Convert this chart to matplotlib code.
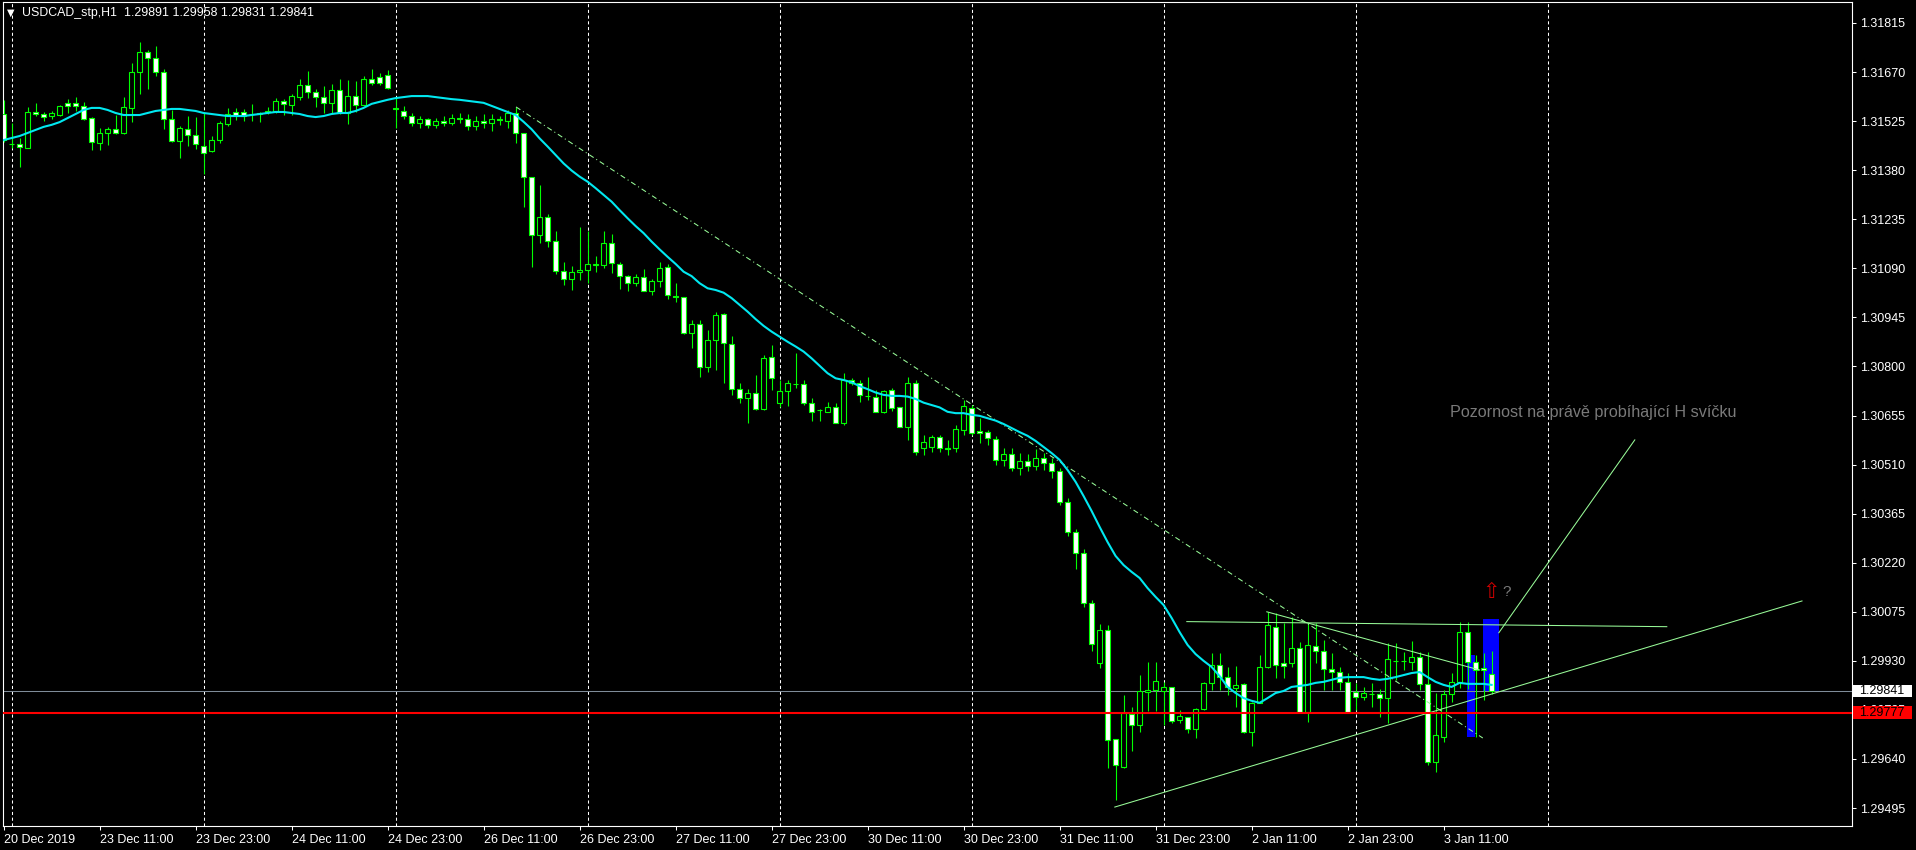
import matplotlib
matplotlib.use("Agg")
import matplotlib.pyplot as plt
import matplotlib.transforms as mtransforms
from matplotlib.patches import Rectangle

plt.rcParams['font.family'] = ['Liberation Sans', 'DejaVu Sans']

# USDCAD H1 bars, first bar 20 Dec 2019 23:00
opens = [
    1.31546, 1.31457, 1.31457, 1.31446, 1.31552, 1.31546, 1.31540, 1.31543, 1.31579, 1.31579,
    1.31570, 1.31534, 1.31460, 1.31490, 1.31502, 1.31490, 1.31564, 1.31670, 1.31729, 1.31712,
    1.31670, 1.31531, 1.31466, 1.31502, 1.31484, 1.31452, 1.31437, 1.31469, 1.31517, 1.31552,
    1.31552, 1.31546, 1.31546, 1.31552, 1.31555, 1.31585, 1.31573, 1.31596, 1.31632, 1.31611,
    1.31596, 1.31579, 1.31617, 1.31549, 1.31599, 1.31573, 1.31650, 1.31655, 1.31661, 1.31564,
    1.31555, 1.31540, 1.31520, 1.31530, 1.31515, 1.31525, 1.31520, 1.31535, 1.31530, 1.31510,
    1.31525, 1.31520, 1.31530, 1.31525, 1.31550, 1.31489, 1.31359, 1.31188, 1.31241, 1.31170,
    1.31081, 1.31059, 1.31078, 1.31084, 1.31101, 1.31099, 1.31165, 1.31103, 1.31067, 1.31046,
    1.31064, 1.31024, 1.31052, 1.31095, 1.31009, 1.31004, 1.30898, 1.30925, 1.30799, 1.30878,
    1.30954, 1.30866, 1.30733, 1.30708, 1.30721, 1.30674, 1.30827, 1.30691, 1.30728, 1.30747,
    1.30747, 1.30693, 1.30671, 1.30666, 1.30679, 1.30632, 1.30760, 1.30752, 1.30714, 1.30711,
    1.30666, 1.30729, 1.30679, 1.30622, 1.30752, 1.30558, 1.30563, 1.30591, 1.30559, 1.30558,
    1.30612, 1.30676, 1.30609, 1.30607, 1.30585, 1.30524, 1.30540, 1.30500, 1.30520, 1.30505,
    1.30530, 1.30515, 1.30490, 1.30400, 1.30310, 1.30250, 1.30100, 1.29925, 1.30021, 1.29698,
    1.29617, 1.29772, 1.29739, 1.29838, 1.29844, 1.29841, 1.29852, 1.29755, 1.29763, 1.29729,
    1.29787, 1.29864, 1.29918, 1.29883, 1.29849, 1.29862, 1.29721, 1.29805, 1.29911, 1.30031,
    1.29923, 1.29923, 1.29967, 1.29780, 1.29975, 1.29959, 1.29905, 1.29898, 1.29869, 1.29839,
    1.29824, 1.29832, 1.29831, 1.29820, 1.29931, 1.29930, 1.29928, 1.29942, 1.29861, 1.29632,
    1.29706, 1.29831, 1.29867, 1.30016, 1.29926, 1.29908, 1.29891,
]
highs = [
    1.31587, 1.31520, 1.31475, 1.31567, 1.31579, 1.31552, 1.31555, 1.31573, 1.31590, 1.31596,
    1.31582, 1.31537, 1.31505, 1.31508, 1.31543, 1.31596, 1.31697, 1.31759, 1.31735, 1.31747,
    1.31679, 1.31558, 1.31511, 1.31540, 1.31537, 1.31549, 1.31481, 1.31525, 1.31564, 1.31564,
    1.31561, 1.31576, 1.31552, 1.31567, 1.31593, 1.31590, 1.31605, 1.31650, 1.31673, 1.31620,
    1.31629, 1.31635, 1.31650, 1.31647, 1.31644, 1.31658, 1.31679, 1.31667, 1.31676, 1.31593,
    1.31570, 1.31550, 1.31540, 1.31535, 1.31535, 1.31540, 1.31545, 1.31550, 1.31545, 1.31540,
    1.31545, 1.31545, 1.31540, 1.31558, 1.31567, 1.31489, 1.31360, 1.31336, 1.31251, 1.31200,
    1.31109, 1.31097, 1.31213, 1.31200, 1.31127, 1.31200, 1.31191, 1.31109, 1.31070, 1.31073,
    1.31088, 1.31059, 1.31109, 1.31103, 1.31047, 1.31004, 1.30937, 1.30937, 1.30908, 1.30961,
    1.30958, 1.30890, 1.30751, 1.30733, 1.30775, 1.30834, 1.30864, 1.30760, 1.30760, 1.30840,
    1.30760, 1.30707, 1.30675, 1.30695, 1.30692, 1.30781, 1.30766, 1.30760, 1.30769, 1.30731,
    1.30731, 1.30736, 1.30680, 1.30769, 1.30760, 1.30598, 1.30598, 1.30598, 1.30583, 1.30627,
    1.30701, 1.30686, 1.30648, 1.30612, 1.30595, 1.30560, 1.30560, 1.30545, 1.30540, 1.30555,
    1.30545, 1.30530, 1.30500, 1.30410, 1.30320, 1.30260, 1.30110, 1.30040, 1.30036, 1.29699,
    1.29829, 1.29795, 1.29888, 1.29928, 1.29928, 1.29869, 1.29852, 1.29785, 1.29765, 1.29790,
    1.29869, 1.29952, 1.29952, 1.29911, 1.29915, 1.29864, 1.29809, 1.29947, 1.30075, 1.30071,
    1.30041, 1.30061, 1.29987, 1.30041, 1.30041, 1.29992, 1.29952, 1.29913, 1.29893, 1.29864,
    1.29854, 1.29864, 1.29846, 1.29982, 1.29982, 1.29957, 1.29989, 1.29957, 1.29957, 1.29834,
    1.29844, 1.29893, 1.30046, 1.30046, 1.29947, 1.29952, 1.29958,
]
lows = [
    1.31463, 1.31446, 1.31390, 1.31446, 1.31540, 1.31525, 1.31531, 1.31540, 1.31549, 1.31555,
    1.31528, 1.31440, 1.31440, 1.31455, 1.31487, 1.31487, 1.31523, 1.31605, 1.31620, 1.31658,
    1.31502, 1.31463, 1.31416, 1.31452, 1.31443, 1.31369, 1.31434, 1.31460, 1.31511, 1.31528,
    1.31525, 1.31525, 1.31523, 1.31546, 1.31549, 1.31543, 1.31543, 1.31588, 1.31593, 1.31567,
    1.31549, 1.31549, 1.31546, 1.31517, 1.31552, 1.31570, 1.31632, 1.31632, 1.31620, 1.31505,
    1.31530, 1.31510, 1.31505, 1.31505, 1.31505, 1.31510, 1.31515, 1.31520, 1.31500, 1.31500,
    1.31505, 1.31495, 1.31515, 1.31505, 1.31460, 1.31272, 1.31093, 1.31164, 1.31154, 1.31073,
    1.31041, 1.31026, 1.31056, 1.31047, 1.31079, 1.31091, 1.31076, 1.31029, 1.31023, 1.31038,
    1.31023, 1.31011, 1.31035, 1.30999, 1.30991, 1.30896, 1.30855, 1.30769, 1.30784, 1.30790,
    1.30751, 1.30716, 1.30692, 1.30633, 1.30671, 1.30671, 1.30731, 1.30680, 1.30683, 1.30736,
    1.30686, 1.30639, 1.30639, 1.30666, 1.30633, 1.30627, 1.30745, 1.30695, 1.30701, 1.30666,
    1.30663, 1.30668, 1.30621, 1.30583, 1.30538, 1.30538, 1.30547, 1.30547, 1.30538, 1.30547,
    1.30598, 1.30598, 1.30574, 1.30568, 1.30509, 1.30505, 1.30490, 1.30480, 1.30490, 1.30495,
    1.30495, 1.30470, 1.30390, 1.30300, 1.30200, 1.30090, 1.29960, 1.29910, 1.29614, 1.29519,
    1.29614, 1.29665, 1.29721, 1.29783, 1.29783, 1.29741, 1.29746, 1.29746, 1.29718, 1.29701,
    1.29785, 1.29844, 1.29844, 1.29829, 1.29795, 1.29718, 1.29679, 1.29805, 1.29908, 1.29879,
    1.29879, 1.29913, 1.29780, 1.29750, 1.29923, 1.29844, 1.29844, 1.29844, 1.29775, 1.29785,
    1.29815, 1.29795, 1.29765, 1.29746, 1.29874, 1.29903, 1.29903, 1.29844, 1.29622, 1.29603,
    1.29691, 1.29809, 1.29849, 1.29847, 1.29706, 1.29815, 1.29831,
]
closes = [
    1.31469, 1.31457, 1.31449, 1.31552, 1.31546, 1.31537, 1.31549, 1.31570, 1.31570, 1.31570,
    1.31531, 1.31463, 1.31490, 1.31502, 1.31490, 1.31567, 1.31670, 1.31729, 1.31712, 1.31670,
    1.31531, 1.31466, 1.31505, 1.31484, 1.31457, 1.31431, 1.31469, 1.31520, 1.31546, 1.31543,
    1.31540, 1.31546, 1.31549, 1.31555, 1.31585, 1.31576, 1.31599, 1.31632, 1.31611, 1.31596,
    1.31579, 1.31617, 1.31549, 1.31599, 1.31573, 1.31650, 1.31638, 1.31638, 1.31623, 1.31561,
    1.31540, 1.31520, 1.31530, 1.31515, 1.31525, 1.31520, 1.31535, 1.31530, 1.31510, 1.31525,
    1.31520, 1.31530, 1.31527, 1.31549, 1.31489, 1.31359, 1.31188, 1.31241, 1.31170, 1.31081,
    1.31059, 1.31078, 1.31084, 1.31103, 1.31103, 1.31164, 1.31106, 1.31067, 1.31046, 1.31064,
    1.31024, 1.31052, 1.31090, 1.31011, 1.31004, 1.30898, 1.30925, 1.30798, 1.30878, 1.30951,
    1.30869, 1.30733, 1.30708, 1.30721, 1.30674, 1.30824, 1.30765, 1.30728, 1.30750, 1.30748,
    1.30691, 1.30666, 1.30670, 1.30679, 1.30634, 1.30760, 1.30750, 1.30717, 1.30713, 1.30666,
    1.30726, 1.30676, 1.30622, 1.30750, 1.30547, 1.30578, 1.30591, 1.30558, 1.30555, 1.30614,
    1.30683, 1.30603, 1.30603, 1.30588, 1.30524, 1.30540, 1.30500, 1.30520, 1.30505, 1.30530,
    1.30515, 1.30490, 1.30400, 1.30310, 1.30250, 1.30100, 1.29980, 1.30021, 1.29696, 1.29622,
    1.29775, 1.29741, 1.29841, 1.29844, 1.29871, 1.29852, 1.29753, 1.29767, 1.29729, 1.29787,
    1.29864, 1.29918, 1.29883, 1.29854, 1.29859, 1.29721, 1.29805, 1.29911, 1.30036, 1.29918,
    1.29916, 1.29967, 1.29780, 1.29977, 1.29959, 1.29905, 1.29898, 1.29869, 1.29780, 1.29824,
    1.29834, 1.29832, 1.29820, 1.29935, 1.29931, 1.29930, 1.29941, 1.29861, 1.29632, 1.29711,
    1.29831, 1.29867, 1.30016, 1.29926, 1.29903, 1.29902, 1.29841,
]
# moving average line as drawn on the chart
ma = [
    1.31469, 1.31475, 1.31481, 1.31490, 1.31499, 1.31508, 1.31514, 1.31522, 1.31534, 1.31546,
    1.31558, 1.31564, 1.31564, 1.31558, 1.31549, 1.31543, 1.31543, 1.31543, 1.31549, 1.31555,
    1.31558, 1.31561, 1.31561, 1.31558, 1.31555, 1.31549, 1.31546, 1.31543, 1.31540, 1.31540,
    1.31540, 1.31543, 1.31546, 1.31549, 1.31552, 1.31552, 1.31549, 1.31546, 1.31540, 1.31537,
    1.31540, 1.31546, 1.31549, 1.31549, 1.31555, 1.31564, 1.31576, 1.31582, 1.31588, 1.31593,
    1.31596, 1.31599, 1.31599, 1.31599, 1.31596, 1.31593, 1.31590, 1.31588, 1.31585, 1.31582,
    1.31579, 1.31570, 1.31561, 1.31552, 1.31543, 1.31523, 1.31501, 1.31474, 1.31450, 1.31425,
    1.31400, 1.31379, 1.31361, 1.31346, 1.31327, 1.31307, 1.31287, 1.31262, 1.31238, 1.31215,
    1.31194, 1.31169, 1.31146, 1.31124, 1.31103, 1.31080, 1.31067, 1.31046, 1.31031, 1.31026,
    1.31018, 1.31002, 1.30982, 1.30962, 1.30940, 1.30920, 1.30903, 1.30888, 1.30873, 1.30859,
    1.30844, 1.30824, 1.30802, 1.30780, 1.30765, 1.30760, 1.30753, 1.30742, 1.30733, 1.30723,
    1.30716, 1.30713, 1.30713, 1.30711, 1.30704, 1.30693, 1.30686, 1.30679, 1.30666, 1.30662,
    1.30662, 1.30657, 1.30654, 1.30647, 1.30640, 1.30630, 1.30618, 1.30606, 1.30595, 1.30580,
    1.30562, 1.30544, 1.30524, 1.30494, 1.30459, 1.30417, 1.30373, 1.30326, 1.30281, 1.30240,
    1.30213, 1.30193, 1.30175, 1.30145, 1.30119, 1.30095, 1.30057, 1.30015, 1.29977, 1.29950,
    1.29930, 1.29912, 1.29885, 1.29853, 1.29835, 1.29820, 1.29812, 1.29806, 1.29820, 1.29835,
    1.29841, 1.29853, 1.29856, 1.29859, 1.29865, 1.29868, 1.29874, 1.29880, 1.29882, 1.29882,
    1.29882, 1.29877, 1.29874, 1.29877, 1.29882, 1.29888, 1.29894, 1.29897, 1.29882, 1.29868,
    1.29859, 1.29853, 1.29865, 1.29862, 1.29862, 1.29862, 1.29859,
]

date_labels = ["20 Dec 2019", "23 Dec 11:00", "23 Dec 23:00", "24 Dec 11:00", "24 Dec 23:00",
               "26 Dec 11:00", "26 Dec 23:00", "27 Dec 11:00", "27 Dec 23:00", "30 Dec 11:00",
               "30 Dec 23:00", "31 Dec 11:00", "31 Dec 23:00", "2 Jan 11:00", "2 Jan 23:00",
               "3 Jan 11:00"]
label_bars = list(range(0, 181, 12))
midnight_bars = [1, 25, 49, 73, 97, 121, 145, 169, 193]
price_ticks = [1.29495 + 0.00145 * k for k in range(17)]

symbol_title = "USDCAD_stp,H1  1.29891 1.29958 1.29831 1.29841"
bid_price = 1.29841
alert_price = 1.29777
note_text = "Pozornost na právě probíhající H svíčku"

LIME = "#00ff00"
PALE = "#98fb98"
W, H = 1916, 850

fig = plt.figure(figsize=(W / 100, H / 100), dpi=100, facecolor="black")
ax = fig.add_axes([3 / W, 24 / H, 1849 / W, 824 / H], facecolor="black")
ax.set_xlim(-0.075, 231.05)
ax.set_ylim(1.29442, 1.31877)

idx = list(range(len(opens)))

# day separators
for b in midnight_bars:
    ax.axvline(b, color="white", lw=0.75, ls=(0, (3, 2.5)), zorder=1)

# blue rectangles
ax.add_patch(Rectangle((182.9, 1.29706), 1.06, 1.29947 - 1.29706, color="#0000ff", lw=0, zorder=2))
ax.add_patch(Rectangle((184.9, 1.29841), 2.06, 1.30054 - 1.29841, color="#0000ff", lw=0, zorder=2))

# bid line
ax.axhline(bid_price, color="#7f8c99", lw=0.75, zorder=2)

# candles
ax.vlines(idx, lows, highs, color=LIME, lw=0.8, zorder=3)
bottoms = [min(o, c) for o, c in zip(opens, closes)]
heights = [abs(c - o) for o, c in zip(opens, closes)]
fills = ["black" if c > o else "white" for o, c in zip(opens, closes)]
ax.bar(idx, heights, bottom=bottoms, width=0.56, color=fills, edgecolor=LIME,
       linewidth=0.8, zorder=4)

# trend lines
ax.plot([64.05, 184.9], [1.31567, 1.29702], color=PALE, lw=0.75, ls=(0, (5, 3, 1, 3)), zorder=4.5)
ax.plot([147.9, 207.9], [1.30046, 1.30031], color=PALE, lw=0.75, zorder=4.5)
ax.plot([157.9, 184.5], [1.30075, 1.29903], color=PALE, lw=0.75, zorder=4.5)
ax.plot([138.9, 224.8], [1.29498, 1.30107], color=PALE, lw=0.75, zorder=4.5)
ax.plot([186.9, 203.9], [1.30013, 1.30583], color=PALE, lw=0.75, zorder=4.5)

# moving average
ax.plot(idx, ma, color="#00e8f0", lw=1.5, zorder=5)

# alert level
ax.axhline(alert_price, color="#ff0000", lw=1.5, zorder=6)

# text objects
ax.text(180.8, 1.30663, note_text, color="#7a7a7a", fontsize=11.6, ha="left", va="center")
ax.text(185.9, 1.30134, "\u21e7", color="#cc0000", fontsize=15, ha="center", va="center",
        family=["DejaVu Sans"])
ax.text(187.9, 1.30134, "?", color="#7a7a7a", fontsize=11, ha="center", va="center")

# axes styling
for s in ax.spines.values():
    s.set_color("white")
    s.set_linewidth(0.8)
ax.yaxis.tick_right()
ax.set_yticks(price_ticks)
ax.set_yticklabels([f"{p:.5f}" for p in price_ticks])
ax.set_xticks(label_bars)
ax.set_xticklabels(date_labels)
for lab in ax.get_xticklabels():
    lab.set_horizontalalignment("left")
ax.tick_params(axis="y", colors="white", length=3, width=0.75, pad=3, labelsize=9)
ax.tick_params(axis="x", colors="white", length=3, width=0.75, pad=3, labelsize=9)

# price labels on the scale
blend = mtransforms.blended_transform_factory(ax.transAxes, ax.transData)
box_h = 0.00038
for price, fc in [(bid_price, "white"), (alert_price, "#ff0000")]:
    ax.add_patch(Rectangle((1.0005, price - box_h / 2), 0.0319, box_h, transform=blend,
                           facecolor=fc, edgecolor="none", clip_on=False, zorder=7))
    ax.text(1.0038, price, f"{price:.5f}", transform=blend, color="black", fontsize=9,
            ha="left", va="center", zorder=8, clip_on=False)

# chart header
fig.text(7 / W, 1 - 13 / H, "\u25bc", color="white", fontsize=7, ha="left", va="center",
         family=["DejaVu Sans"])
fig.text(21.5 / W, 1 - 13 / H, symbol_title, color="white", fontsize=8.9, ha="left", va="center")

fig.savefig("out.png", dpi=100, facecolor="black")
